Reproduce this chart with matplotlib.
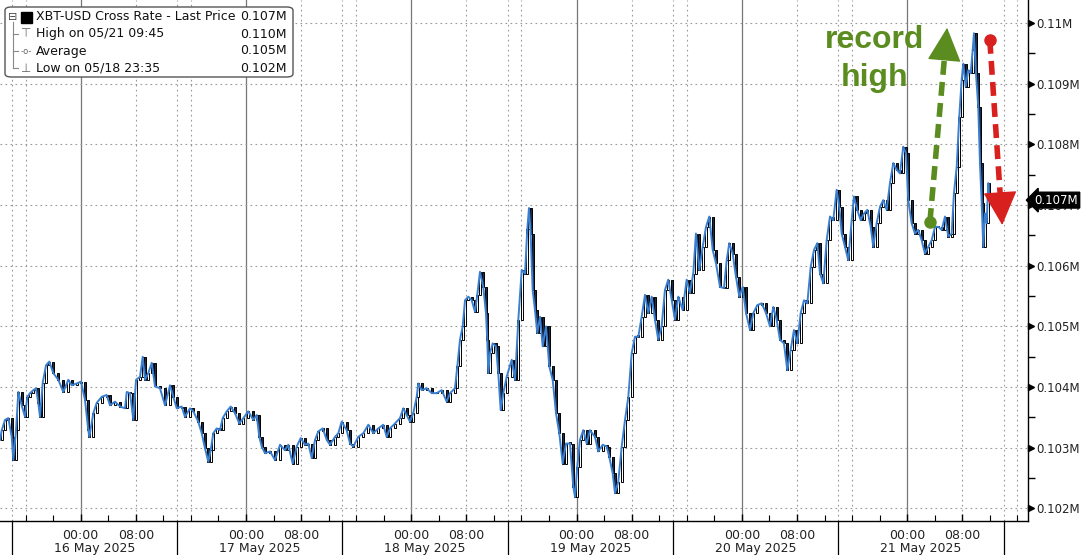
import matplotlib
matplotlib.use("Agg")
import matplotlib.pyplot as plt
from matplotlib.patches import FancyBboxPatch
from matplotlib.ticker import FixedLocator, FuncFormatter

# XBT-USD, hours from 16 May 2025 00:00, price in thousand USD
hours = [-11.72, -11.47, -10.99, -10.51, -10.02, -9.79, -9.39, -9.06, -8.57, -8.09,
         -7.75, -7.36, -6.88, -6.49, -6.16, -5.91, -5.52, -5.04, -4.56, -3.98,
         -3.25, -2.53, -1.80, -1.31, -0.58, 0.04, 0.62, 1.10, 1.25, 1.83,
         2.32, 3.05, 3.77, 4.25, 4.98, 5.71, 6.43, 6.68, 7.16, 7.64,
         8.03, 8.61, 9.00, 9.34, 9.81, 10.31, 10.79, 11.51, 12.24, 12.97,
         13.44, 13.94, 14.66, 15.14, 15.87, 16.35, 17.07, 17.57, 18.05, 18.53,
         18.87, 19.25, 19.75, 20.22, 20.62, 21.20, 21.78, 22.40, 23.03, 23.61,
         24.33, 25.06, 25.55, 25.93, 26.28, 26.76, 27.48, 28.21, 28.94, 29.66,
         30.14, 30.78, 31.36, 31.94, 32.57, 33.05, 33.54, 34.02, 34.50, 35.14,
         35.72, 36.20, 36.92, 37.40, 37.89, 38.62, 39.10, 39.58, 40.30, 41.03,
         41.76, 42.48, 43.21, 43.93, 44.43, 44.91, 45.63, 46.36, 46.84, 47.33,
         47.81, 48.29, 48.78, 49.02, 49.51, 50.24, 50.96, 51.69, 52.41, 53.14,
         53.62, 54.34, 54.68, 55.07, 55.46, 55.80, 56.28, 56.77, 57.25, 57.58,
         57.97, 58.45, 58.84, 59.03, 59.18, 59.42, 59.82, 60.30, 60.63, 60.98,
         61.36, 61.85, 62.58, 63.06, 63.54, 64.03, 64.51, 64.84, 65.09, 65.33,
         65.62, 65.96, 66.29, 66.69, 67.08, 67.56, 68.04, 68.53, 69.01, 69.49,
         69.98, 70.46, 71.04, 71.52, 71.77, 72.10, 72.49, 72.97, 73.47, 73.94,
         74.67, 75.15, 75.79, 76.37, 76.75, 77.24, 77.58, 78.05, 78.55, 79.03,
         79.51, 80.00, 80.48, 80.96, 81.45, 81.93, 82.41, 82.90, 83.38, 83.86,
         84.35, 84.83, 85.31, 85.81, 86.29, 86.77, 87.40, 87.98, 88.46, 88.94,
         89.33, 89.81, 90.31, 90.79, 91.27, 91.76, 92.24, 92.82, 93.40, 93.79,
         94.17, 94.66, 95.14, 95.62, 96.12, 96.60, 97.18, 97.66, 98.24, 98.87,
         99.50, 100.08, 100.56, 101.05, 101.53, 102.11, 102.59, 103.08, 103.56, 104.04,
         104.54, 105.02, 105.50, 105.99, 106.47, 106.95, 107.34, 107.82, 108.31, 108.79,
         109.27, 109.76, 110.14, 110.49, 110.97, 111.45, 111.94, 112.27, 112.75, 113.25,
         113.73, 114.21, 114.70, 115.08, 115.57, 116.05, 116.53, 117.02, 117.50, 117.98,
         118.48, 118.95, 119.43, 119.83, 120.16, 120.65, 121.13, 121.61, 122.10, 122.58,
         123.06, 123.56, 124.04, 124.52, 125.01, 125.49, 125.97, 126.46, 126.79, 127.19,
         127.56, 127.91, 128.15, 128.50, 128.87, 129.22, 129.51, 129.70, 129.99, 130.32,
         130.57, 130.82, 131.05, 131.30, 131.54, 131.78, 131.93]

price = [103.13, 103.29, 103.46, 103.49, 103.18, 102.80, 103.29, 103.92, 103.70, 103.51,
         103.84, 103.90, 103.95, 103.98, 103.74, 103.51, 104.07, 104.36, 104.42, 104.23,
         104.12, 103.92, 104.12, 104.03, 104.06, 104.09, 103.79, 103.29, 103.18, 103.57,
         103.74, 103.84, 103.87, 103.70, 103.76, 103.68, 103.65, 103.92, 103.90, 103.46,
         104.12, 104.17, 104.50, 104.12, 104.23, 104.40, 104.01, 103.98, 103.70, 104.03,
         103.84, 103.65, 103.68, 103.51, 103.65, 103.60, 103.43, 103.24, 102.99, 102.77,
         102.96, 103.24, 103.32, 103.29, 103.49, 103.60, 103.68, 103.57, 103.40, 103.49,
         103.60, 103.46, 103.54, 103.18, 103.02, 102.91, 102.94, 102.80, 103.05, 102.96,
         103.05, 102.74, 103.02, 103.16, 103.05, 103.07, 102.83, 103.13, 103.27, 103.32,
         103.13, 103.05, 103.18, 103.24, 103.43, 103.29, 103.07, 103.02, 103.18, 103.24,
         103.38, 103.24, 103.32, 103.38, 103.18, 103.32, 103.40, 103.49, 103.65, 103.54,
         103.43, 103.57, 103.84, 104.06, 103.95, 103.98, 103.90, 103.90, 103.95, 103.76,
         103.90, 103.98, 104.34, 104.78, 105.00, 105.43, 105.49, 105.43, 105.24, 105.52,
         105.90, 105.65, 105.22, 104.78, 104.23, 104.56, 104.72, 104.67, 104.23, 103.62,
         103.90, 104.17, 104.45, 104.12, 105.11, 105.93, 105.87, 106.60, 106.95, 106.53,
         105.60, 105.27, 104.89, 105.16, 104.67, 105.00, 104.34, 104.12, 103.57, 103.24,
         102.74, 103.07, 103.07, 102.36, 102.19, 102.69, 103.13, 103.29, 103.07, 103.29,
         103.18, 102.94, 103.05, 103.02, 102.85, 102.58, 102.25, 102.44, 103.02, 103.46,
         103.84, 104.56, 104.83, 104.83, 105.16, 105.52, 105.22, 105.49, 105.11, 104.78,
         105.00, 105.60, 105.77, 105.43, 105.11, 105.49, 105.27, 105.77, 105.55, 105.87,
         106.53, 105.93, 106.31, 106.64, 106.81, 106.26, 106.04, 105.65, 105.63, 106.09,
         106.37, 106.20, 105.82, 105.49, 105.65, 105.22, 104.94, 105.22, 105.35, 105.38,
         105.22, 105.00, 105.32, 105.11, 104.78, 104.72, 104.28, 104.61, 104.94, 104.72,
         105.22, 105.43, 105.38, 105.98, 106.26, 106.37, 105.87, 105.71, 106.42, 106.81,
         106.75, 107.25, 106.97, 106.53, 106.31, 106.09, 106.75, 107.14, 106.92, 106.75,
         106.86, 106.92, 106.64, 106.31, 106.70, 106.97, 107.08, 106.92, 107.36, 107.69,
         107.58, 107.52, 107.96, 107.85, 107.08, 106.70, 106.53, 106.59, 106.42, 106.20,
         106.31, 106.42, 106.64, 106.64, 106.59, 106.81, 106.48, 106.53, 107.19, 107.63,
         108.45, 109.06, 109.33, 108.95, 109.22, 109.17, 109.55, 109.83, 109.17, 108.62,
         107.69, 107.03, 106.31, 106.86, 106.70, 107.36, 107.08]

days = ["16 May 2025", "17 May 2025", "18 May 2025", "19 May 2025", "20 May 2025", "21 May 2025"]
y_ticks = [102, 103, 104, 105, 106, 107, 108, 109, 110]

legend_rows = [("XBT-USD Cross Rate - Last Price", "0.107M"),
               ("High on 05/21 09:45", "0.110M"),
               ("Average", "0.105M"),
               ("Low on 05/18 23:35", "0.102M")]

W, H = 1081, 555
fig = plt.figure(figsize=(W / 100, H / 100), dpi=100)
ax = fig.add_axes([0, 1 - 521 / H, 1027.7 / W, 521 / H])

def fx(px):
    return px / W

def fy(py):
    return 1 - py / H

# candles from consecutive prints + blue line
opens = price[:-1]
closes = price[1:]
xs = hours[1:]
bottoms = [min(o, c) for o, c in zip(opens, closes)]
heights = [max(abs(c - o), 0.02) for o, c in zip(opens, closes)]
faces = ["white" if c >= o else "#1b2c4a" for o, c in zip(opens, closes)]
ax.bar(xs, heights, bottom=bottoms, width=0.3, color=faces, edgecolor="black",
       linewidth=0.7, zorder=3)
ax.plot(hours, price, color="#3a7fd0", lw=1.4, zorder=4)

ax.set_xlim(-11.72, 137.5)
ax.set_ylim(101.794, 110.377)

# grid
for d in range(-1, 6):
    base = d * 24
    if d >= 0:
        ax.axvline(base, color="#777777", lw=0.9, zorder=1)
    for off in (8, 14, 16):
        ax.axvline(base + off, color="#999999", lw=0.8, ls=(0, (1.5, 3)), zorder=1)
for v in y_ticks:
    ax.axhline(v, color="#999999", lw=0.8, ls=(0, (1.5, 3)), zorder=1)

# spines
for s in ("left", "top"):
    ax.spines[s].set_visible(False)
ax.spines["right"].set_linewidth(1.0)
ax.spines["bottom"].set_linewidth(1.0)

# y axis on the right
ax.yaxis.tick_right()
ax.yaxis.set_major_locator(FixedLocator(y_ticks))
ax.yaxis.set_minor_locator(FixedLocator([v + 0.5 for v in y_ticks[:-1]]))

def yfmt(v, pos):
    s = f"{v / 1000:.3f}".rstrip("0")
    return s + "M"

ax.yaxis.set_major_formatter(FuncFormatter(yfmt))
ax.tick_params(axis="y", which="major", length=0, pad=6, labelsize=8.5, labelcolor="#222222")
ax.tick_params(axis="y", which="minor", length=5, width=1, direction="out")
ax.plot([1.003] * len(y_ticks), y_ticks, marker=">", ms=4.5, color="black", ls="none",
        transform=ax.get_yaxis_transform(), clip_on=False, zorder=5)

# x axis
major_x = []
major_lab = []
for d in range(6):
    major_x += [d * 24, d * 24 + 8]
    major_lab += ["00:00", "08:00"]
ax.set_xticks(major_x)
ax.set_xticklabels(major_lab)
ax.set_xticks([h for h in range(-8, 137, 4)], minor=True)
ax.tick_params(axis="x", which="major", direction="in", length=5, width=1, pad=6,
               labelsize=9, labelcolor="#222222")
ax.tick_params(axis="x", which="minor", direction="in", length=4, width=0.8)
for d, lab in enumerate(days):
    ax.text(d * 24 + 2, -0.052, lab, transform=ax.get_xaxis_transform(), ha="center",
            va="center", fontsize=9, color="#222222")
for d in range(-1, 6):
    ax.plot([d * 24 + 14] * 2, [0, -0.07], color="black", lw=0.9,
            transform=ax.get_xaxis_transform(), clip_on=False)

# last price tag
ax.annotate("0.107M", xy=(1.0, price[-1]), xycoords=ax.get_yaxis_transform(),
            xytext=(5, 0), textcoords="offset points", ha="left", va="center",
            fontsize=8.5, color="white",
            bbox=dict(boxstyle="larrow,pad=0.12", fc="black", ec="black"))

# annotations
green = "#5b8c1f"
red = "#d8201e"
ax.text(115.3, 109.72, "record", color=green, fontsize=23, fontweight="bold",
        family="Liberation Sans", ha="center", va="center", zorder=6)
ax.text(115.3, 109.09, "high", color=green, fontsize=23, fontweight="bold",
        family="Liberation Sans", ha="center", va="center", zorder=6)

def dash_arrow(x0, y0, x1, y1, c):
    f = 0.85
    xb = x0 + (x1 - x0) * f
    yb = y0 + (y1 - y0) * f
    ax.plot([x0, xb], [y0, yb], color=c, lw=4, ls=(0, (2.5, 1.3)),
            solid_capstyle="butt", zorder=6)
    ax.plot([x0], [y0], "o", color=c, ms=8, zorder=6)
    ax.annotate("", xy=(x1, y1), xytext=(xb, yb),
                arrowprops=dict(arrowstyle="-|>,head_length=1.0,head_width=0.5",
                                mutation_scale=22, color=c, lw=1,
                                shrinkA=0, shrinkB=0), zorder=6)

dash_arrow(123.3, 106.72, 125.8, 109.92, green)
dash_arrow(132.0, 109.72, 133.8, 106.67, red)

# legend box
fig.patches.append(FancyBboxPatch((fx(5), fy(77)), fx(288), 70 / H,
                                  boxstyle="round,pad=0,rounding_size=0.006",
                                  transform=fig.transFigure, fc="white",
                                  ec="#555555", lw=1.0, zorder=10))
row_y = [17, 34, 51, 68]
for (lab, val), py in zip(legend_rows, row_y):
    fig.text(fx(36), fy(py), lab, fontsize=9, va="center", ha="left",
             color="#111111", zorder=11)
    fig.text(fx(287), fy(py), val, fontsize=9, va="center", ha="right",
             color="#111111", zorder=11)
# tree icons
fig.text(fx(13), fy(17), "\u229f", fontsize=8, va="center", ha="center", color="#444444", zorder=11)
fig.patches.append(plt.Rectangle((fx(21), fy(23)), fx(11), 11 / H, transform=fig.transFigure,
                                 fc="black", ec="black", zorder=11))
fig.lines.append(plt.Line2D([fx(13), fx(13)], [fy(22), fy(68)], transform=fig.transFigure,
                            color="#888888", lw=0.8, zorder=11))
for py in row_y[1:]:
    fig.lines.append(plt.Line2D([fx(13), fx(18)], [fy(py), fy(py)], transform=fig.transFigure,
                                color="#888888", lw=0.8, zorder=11))
fig.text(fx(26), fy(34), "\u22a4", fontsize=8.5, va="center", ha="center", color="#666666", zorder=11)
fig.text(fx(26), fy(51), "-o-", fontsize=6, va="center", ha="center", color="#666666", zorder=11)
fig.text(fx(26), fy(68), "\u22a5", fontsize=8.5, va="center", ha="center", color="#666666", zorder=11)

fig.savefig("out.png", dpi=100)
